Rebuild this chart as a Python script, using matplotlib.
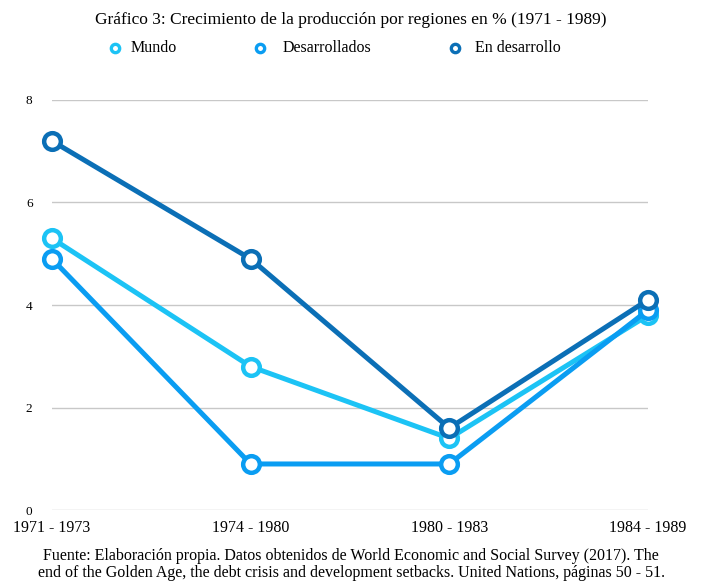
import matplotlib
matplotlib.use("Agg")
import matplotlib.pyplot as plt
from matplotlib.lines import Line2D

# datos
periodos = ["1971 - 1973", "1974 - 1980", "1980 - 1983", "1984 - 1989"]
mundo = [5.3, 2.8, 1.4, 3.8]
desarrollados = [4.9, 0.9, 0.9, 3.9]
en_desarrollo = [7.2, 4.9, 1.6, 4.1]
series = ["Mundo", "Desarrollados", "En desarrollo"]
colores = ["#1CC3F5", "#0A9DF2", "#0B6FB6"]
yticks = [0, 2, 4, 6, 8]

plt.rcParams['font.family'] = ['Liberation Serif', 'DejaVu Serif']

fig = plt.figure(figsize=(7.02, 5.81), dpi=100)
ax = fig.add_axes([0.074, 0.122, 0.849, 0.706])

x = list(range(len(periodos)))
for nombre, valores, color in zip(series, [mundo, desarrollados, en_desarrollo], colores):
    ax.plot(x, valores, color=color, linewidth=3.6, marker="o", markersize=12,
            markerfacecolor="white", markeredgecolor=color, markeredgewidth=3.2,
            label=nombre, zorder=3, clip_on=False)

ax.set_xlim(0, 3)
ax.set_ylim(0, 8)
ax.set_yticks(yticks)
ax.set_xticks(x)
ax.set_xticklabels(periodos)
ax.grid(axis="y", color="#c8c8c8", linewidth=1)
ax.set_axisbelow(True)
for s in ax.spines.values():
    s.set_visible(False)
ax.tick_params(length=0)
ax.tick_params(axis="y", pad=14, labelsize=9.5)
ax.tick_params(axis="x", pad=7, labelsize=11.5)

fig.text(0.5, 0.965, "Gráfico 3: Crecimiento de la producción por regiones en % (1971 - 1989)",
         ha="center", va="center", fontsize=12.5)

# leyenda hecha a mano (posiciones como en la imagen)
pos_marca = [0.164, 0.370, 0.648]
pos_texto = [0.186, 0.403, 0.677]
for nombre, color, xm, xt in zip(series, colores, pos_marca, pos_texto):
    fig.add_artist(Line2D([xm], [0.917], transform=fig.transFigure, marker="o",
                          markersize=6, markerfacecolor="white", markeredgecolor=color,
                          markeredgewidth=2.4, linestyle="none"))
    fig.text(xt, 0.917, nombre, ha="left", va="center", fontsize=11.5)

fig.text(0.5, 0.028,
         "Fuente: Elaboración propia. Datos obtenidos de World Economic and Social Survey (2017). The\n"
         "end of the Golden Age, the debt crisis and development setbacks. United Nations, páginas 50 - 51.",
         ha="center", va="center", fontsize=11.5, linespacing=1.05)

fig.savefig("out.png", dpi=100)
